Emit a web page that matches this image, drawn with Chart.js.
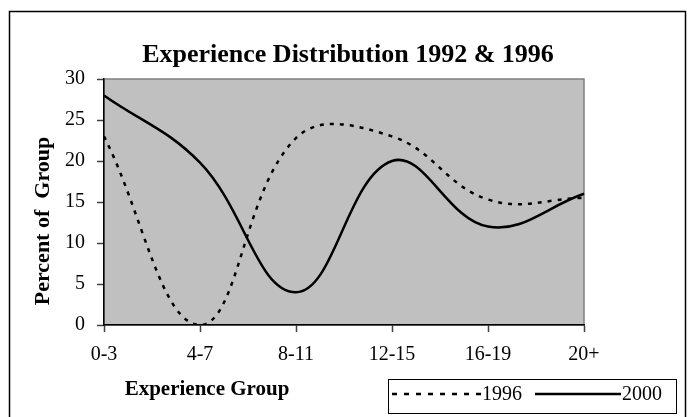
<!DOCTYPE html>
<html>
<head>
<meta charset="utf-8">
<script src="https://cdn.jsdelivr.net/npm/chart.js@4/dist/chart.umd.min.js"></script>
<style>
  html, body { margin: 0; padding: 0; background: #ffffff; }
  canvas { display: block; }
</style>
</head>
<body>
<canvas id="chart" width="690" height="417"></canvas>
<script>
// dati
const categories = ['0-3', '4-7', '8-11', '12-15', '16-19', '20+'];
const values1996 = [23, 0, 22.8, 23, 15.3, 15.5];
const values2000 = [28, 19.8, 4, 20, 12, 16];
const yTicks = [0, 5, 10, 15, 20, 25, 30];

const serif = '"Liberation Serif", "Times New Roman", Times, serif';

// sfondo grigio del plot + cornice esterna
const backgroundPlugin = {
  id: 'plotBackground',
  beforeDraw(chart) {
    const { ctx, chartArea: a } = chart;
    ctx.save();
    ctx.fillStyle = '#ffffff';
    ctx.fillRect(0, 0, chart.width, chart.height);

    // cornice esterna
    ctx.strokeStyle = '#000000';
    ctx.lineWidth = 1.5;
    ctx.strokeRect(9.5, 11.5, 676, 430);

    ctx.fillStyle = '#c0c0c0';
    ctx.fillRect(a.left, a.top, a.right - a.left, a.bottom - a.top);
    ctx.strokeStyle = '#808080';
    ctx.lineWidth = 1.5;
    ctx.strokeRect(a.left, a.top, a.right - a.left, a.bottom - a.top);
    ctx.restore();
  }
};

// titoli e legenda disegnati a mano
const textPlugin = {
  id: 'texts',
  afterDraw(chart) {
    const ctx = chart.ctx;
    ctx.save();
    ctx.fillStyle = '#000000';

    // titolo
    ctx.font = 'bold 26px ' + serif;
    ctx.textAlign = 'center';
    ctx.textBaseline = 'alphabetic';
    ctx.fillText('Experience Distribution 1992 & 1996', 348, 62);

    // titolo asse x
    ctx.font = 'bold 21px ' + serif;
    ctx.textBaseline = 'middle';
    ctx.fillText('Experience Group', 207, 390);

    // titolo asse y
    ctx.save();
    ctx.translate(43, 221);
    ctx.rotate(-Math.PI / 2);
    ctx.font = 'bold 22px ' + serif;
    ctx.fillText('Percent of  Group', 0, 0);
    ctx.restore();

    // legenda
    ctx.strokeStyle = '#000000';
    ctx.lineWidth = 1;
    ctx.strokeRect(388.5, 379.5, 288, 34);

    ctx.lineWidth = 2.5;
    ctx.setLineDash([5, 7]);
    ctx.beginPath();
    ctx.moveTo(392, 394);
    ctx.lineTo(481, 394);
    ctx.stroke();
    ctx.setLineDash([]);
    ctx.beginPath();
    ctx.moveTo(535, 394);
    ctx.lineTo(621, 394);
    ctx.stroke();

    ctx.font = '20px ' + serif;
    ctx.textAlign = 'left';
    ctx.fillText('1996', 482, 395);
    ctx.fillText('2000', 622, 395);
    ctx.restore();
  }
};

const ctx = document.getElementById('chart').getContext('2d');
const chart = new Chart(ctx, {
  type: 'line',
  data: {
    labels: categories,
    datasets: [
      {
        label: '1996',
        data: values1996,
        borderColor: '#000000',
        borderWidth: 2.5,
        borderDash: [4, 6],
        pointRadius: 0,
        tension: 0.4,
        fill: false
      },
      {
        label: '2000',
        data: values2000,
        borderColor: '#000000',
        borderWidth: 2.5,
        pointRadius: 0,
        tension: 0.4,
        fill: false
      }
    ]
  },
  options: {
    responsive: false,
    animation: false,
    devicePixelRatio: 1,
    layout: { padding: { top: 79, right: 106, bottom: 0, left: 0 } },
    plugins: {
      legend: { display: false },
      title: { display: false },
      tooltip: { enabled: false }
    },
    scales: {
      x: {
        type: 'category',
        offset: false,
        afterFit(scale) { scale.height = 92; },
        grid: {
          display: true,
          drawOnChartArea: false,
          offset: false,
          tickLength: 7,
          tickColor: '#404040',
          tickWidth: 1.5
        },
        border: { color: '#000000', width: 1.5 },
        ticks: {
          color: '#000000',
          padding: 11,
          maxRotation: 0,
          autoSkip: false,
          font: { family: serif, size: 20 }
        }
      },
      y: {
        min: 0,
        max: 30,
        afterFit(scale) { scale.width = 104; },
        afterBuildTicks(scale) { scale.ticks = yTicks.map(v => ({ value: v })); },
        grid: {
          display: true,
          drawOnChartArea: false,
          tickLength: 7,
          tickColor: '#404040',
          tickWidth: 1.5
        },
        border: { color: '#000000', width: 1.5 },
        ticks: {
          color: '#000000',
          padding: 12,
          font: { family: serif, size: 20 }
        }
      }
    }
  },
  plugins: [backgroundPlugin, textPlugin]
});
</script>
</body>
</html>
